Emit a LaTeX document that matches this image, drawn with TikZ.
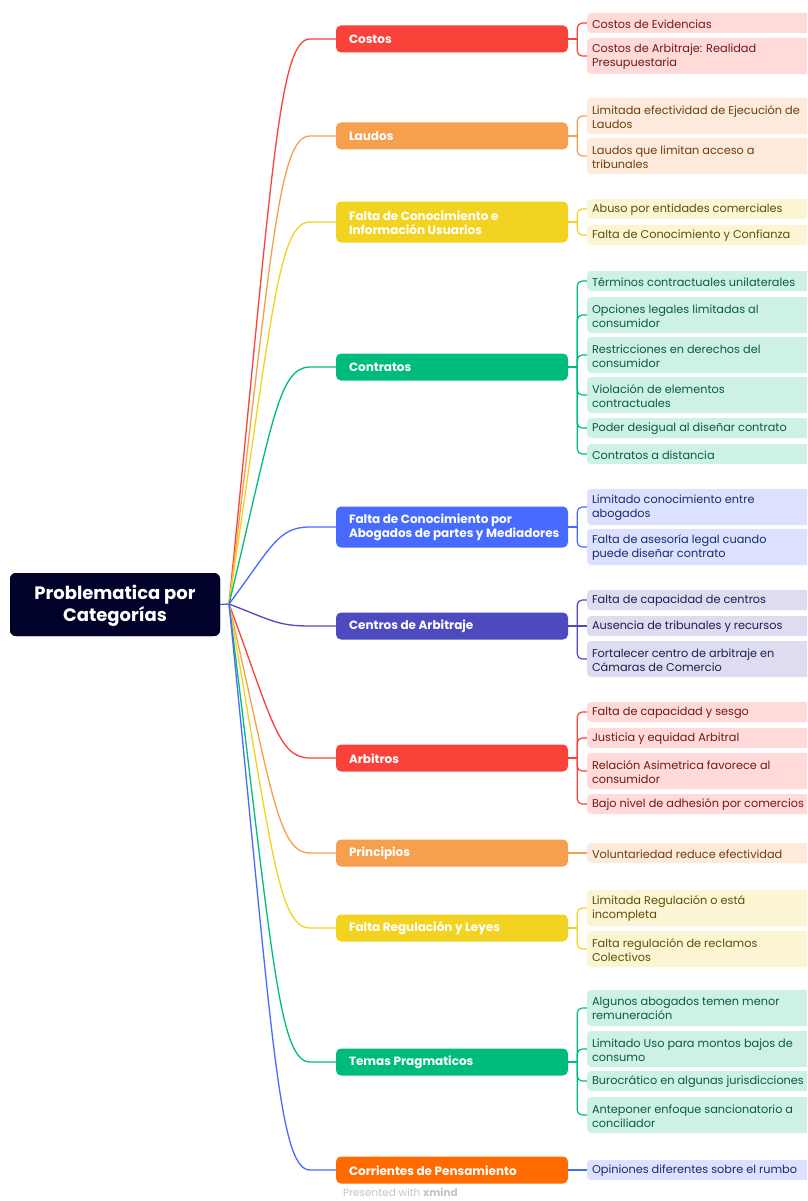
\documentclass[tikz,border=0pt]{standalone}
\usepackage{fontspec}
\setmainfont{Poppins}
\definecolor{cRed}{HTML}{F9423A}
\definecolor{cOrange}{HTML}{F6A04D}
\definecolor{cYellow}{HTML}{F3D321}
\definecolor{cGreen}{HTML}{00BC7B}
\definecolor{cBlue}{HTML}{486AFF}
\definecolor{cIndigo}{HTML}{4D49BE}
\definecolor{cDeep}{HTML}{FF6B00}
\definecolor{cRoot}{HTML}{000229}
\definecolor{lRed}{HTML}{FFDAD8}
\definecolor{lOrange}{HTML}{FDEADB}
\definecolor{lYellow}{HTML}{FCF5D3}
\definecolor{lGreen}{HTML}{CDF2E5}
\definecolor{lBlue}{HTML}{DBE1FF}
\definecolor{lIndigo}{HTML}{DDDCF1}
\definecolor{tRed}{HTML}{6E1A17}
\definecolor{tOrange}{HTML}{6A4012}
\definecolor{tYellow}{HTML}{5C4F0B}
\definecolor{tGreen}{HTML}{0B5B3F}
\definecolor{tBlue}{HTML}{1D2B6B}
\definecolor{tIndigo}{HTML}{1F1E4E}
\definecolor{cFoot}{HTML}{C4C4C4}
\tikzset{
  rootbox/.style={draw=none, fill=cRoot, rounded corners=6pt, minimum width=210pt, minimum height=63pt, inner sep=0pt},
  roottext/.style={text=white, align=center, font=\fontsize{18}{22}\selectfont\bfseries, inner sep=0pt},
  brbox/.style={draw=none, rounded corners=5pt, minimum width=232pt, inner sep=0pt},
  brtext/.style={anchor=west, text=white, align=left, font=\fontsize{12}{14}\selectfont\bfseries, inner sep=0pt},
  lfbox/.style={draw=none, rounded corners=4pt, minimum width=226pt, inner sep=0pt},
  lftext/.style={anchor=west, align=left, font=\fontsize{11.3}{14}\selectfont, inner sep=0pt},
  bline/.style={line width=1.3pt},
  lline/.style={line width=1.2pt, rounded corners=5pt},
}
\newcommand{\branchnode}[5]{%
  \node[brbox, fill=#4, minimum height=#3] (#1) at (452,#2) {};
  \node[brtext] (#1t) at ([xshift=13pt,yshift=-0.5pt]#1.west) {#5};
}
\newcommand{\leafnode}[5]{%
  \node[lfbox, fill=l#4, minimum height=#3] (#1) at (700,#2) {};
  \node[lftext, text=t#4] (#1t) at ([xshift=5pt,yshift=-0.8pt]#1.west) {#5};
}
\begin{document}
\begin{tikzpicture}[x=1pt,y=-1pt]
\useasboundingbox (0,0) rectangle (807,1201);
\fill[white] (0,0) rectangle (807,1201);
\clip (0,0) rectangle (807,1201);

% root
\node[rootbox] (root) at (115,604.5) {};
\coordinate (F) at (229,604);

% branches
\branchnode{b1}{39}{27}{cRed}{Costos}
\branchnode{b2}{136}{27}{cOrange}{Laudos}
\branchnode{b3}{222}{41}{cYellow}{Falta de Conocimiento e\\Información Usuarios}
\branchnode{b4}{367}{27}{cGreen}{Contratos}
\branchnode{b5}{527}{41}{cBlue}{Falta de Conocimiento por\\Abogados de partes y Mediadores}
\branchnode{b6}{626}{27}{cIndigo}{Centros de Arbitraje}
\branchnode{b7}{758}{27}{cRed}{Arbitros}
\branchnode{b8}{853}{27}{cOrange}{Principios}
\branchnode{b9}{928}{27}{cYellow}{Falta Regulación y Leyes}
\branchnode{b10}{1062}{27}{cGreen}{Temas Pragmaticos}
\branchnode{b11}{1170}{27}{cDeep}{Corrientes de Pensamiento}

% leaves
\leafnode{l1a}{23}{20}{Red}{Costos de Evidencias}
\leafnode{l1b}{56}{36}{Red}{Costos de Arbitraje: Realidad\\Presupuestaria}
\leafnode{l2a}{116}{36}{Orange}{Limitada efectividad de Ejecución de\\Laudos}
\leafnode{l2b}{156}{36}{Orange}{Laudos que limitan acceso a\\tribunales}
\leafnode{l3a}{209}{20}{Yellow}{Abuso por entidades comerciales}
\leafnode{l3b}{235}{20}{Yellow}{Falta de Conocimiento y Confianza}
\leafnode{l4a}{281}{20}{Green}{Términos contractuales unilaterales}
\leafnode{l4b}{315}{36}{Green}{Opciones legales limitadas al\\consumidor}
\leafnode{l4c}{355}{36}{Green}{Restricciones en derechos del\\consumidor}
\leafnode{l4d}{395}{36}{Green}{Violación de elementos\\contractuales}
\leafnode{l4e}{428}{20}{Green}{Poder desigual al diseñar contrato}
\leafnode{l4f}{454}{20}{Green}{Contratos a distancia}
\leafnode{l5a}{507}{36}{Blue}{Limitado conocimiento entre\\abogados}
\leafnode{l5b}{547}{36}{Blue}{Falta de asesoría legal cuando\\puede diseñar contrato}
\leafnode{l6a}{600}{20}{Indigo}{Falta de capacidad de centros}
\leafnode{l6b}{626}{20}{Indigo}{Ausencia de tribunales y recursos}
\leafnode{l6c}{659}{36}{Indigo}{Fortalecer centro de arbitraje en\\Cámaras de Comercio}
\leafnode{l7a}{712}{20}{Red}{Falta de capacidad y sesgo}
\leafnode{l7b}{738}{20}{Red}{Justicia y equidad Arbitral}
\leafnode{l7c}{771}{36}{Red}{Relación Asimetrica favorece al\\consumidor}
\leafnode{l7d}{804}{20}{Red}{Bajo nivel de adhesión por comercios}
\leafnode{l8a}{853}{20}{Orange}{Voluntariedad reduce efectividad}
\leafnode{l9a}{908}{36}{Yellow}{Limitada Regulación o está\\incompleta}
\leafnode{l9b}{949}{36}{Yellow}{Falta regulación de reclamos\\Colectivos}
\leafnode{l10a}{1008}{36}{Green}{Algunos abogados temen menor\\remuneración}
\leafnode{l10b}{1049}{36}{Green}{Limitado Uso para montos bajos de\\consumo}
\leafnode{l10c}{1081}{20}{Green}{Burocrático en algunas jurisdicciones}
\leafnode{l10d}{1115}{36}{Green}{Anteponer enfoque sancionatorio a\\conciliador}
\leafnode{l11a}{1170}{20}{Blue}{Opiniones diferentes sobre el rumbo}

% root stub and branch curves
\draw[bline, color=cBlue!70!cIndigo] (root.east) -- (F);
\draw[bline, cRed]    (F) .. controls (272,180.25) and (278,39) .. (310,39) -- (b1.west);
\draw[bline, cOrange] (F) .. controls (272,253) and (278,136) .. (310,136) -- (b2.west);
\draw[bline, cYellow] (F) .. controls (272,317.5) and (278,222) .. (310,222) -- (b3.west);
\draw[bline, cGreen]  (F) .. controls (272,426.25) and (278,367) .. (310,367) -- (b4.west);
\draw[bline, cBlue]   (F) .. controls (272,546.25) and (278,527) .. (310,527) -- (b5.west);
\draw[bline, cIndigo] (F) .. controls (272,620.5) and (278,626) .. (310,626) -- (b6.west);
\draw[bline, cRed]    (F) .. controls (272,719.5) and (278,758) .. (310,758) -- (b7.west);
\draw[bline, cOrange] (F) .. controls (272,790.75) and (278,853) .. (310,853) -- (b8.west);
\draw[bline, cYellow] (F) .. controls (272,847) and (278,928) .. (310,928) -- (b9.west);
\draw[bline, cGreen]  (F) .. controls (272,947.5) and (278,1062) .. (310,1062) -- (b10.west);
\draw[bline, cBlue]   (F) .. controls (272,1028.5) and (278,1170) .. (310,1170) -- (b11.west);

% leaf connectors
\draw[lline, cRed] (b1.east) -- ++(9,0);
\draw[lline, cRed] (b1.east) ++(9,0) |- (l1a.west);
\draw[lline, cRed] (b1.east) ++(9,0) |- (l1b.west);
\draw[lline, cOrange] (b2.east) -- ++(9,0);
\draw[lline, cOrange] (b2.east) ++(9,0) |- (l2a.west);
\draw[lline, cOrange] (b2.east) ++(9,0) |- (l2b.west);
\draw[lline, cYellow] (b3.east) -- ++(9,0);
\draw[lline, cYellow] (b3.east) ++(9,0) |- (l3a.west);
\draw[lline, cYellow] (b3.east) ++(9,0) |- (l3b.west);
\draw[lline, cGreen] (b4.east) -- ++(9,0);
\draw[lline, cGreen] (b4.east) ++(9,0) |- (l4a.west);
\draw[lline, cGreen] (b4.east) ++(9,0) |- (l4b.west);
\draw[lline, cGreen] (b4.east) ++(9,0) |- (l4c.west);
\draw[lline, cGreen] (b4.east) ++(9,0) |- (l4d.west);
\draw[lline, cGreen] (b4.east) ++(9,0) |- (l4e.west);
\draw[lline, cGreen] (b4.east) ++(9,0) |- (l4f.west);
\draw[lline, cBlue] (b5.east) -- ++(9,0);
\draw[lline, cBlue] (b5.east) ++(9,0) |- (l5a.west);
\draw[lline, cBlue] (b5.east) ++(9,0) |- (l5b.west);
\draw[lline, cIndigo] (b6.east) -- (l6b.west);
\draw[lline, cIndigo] (b6.east) ++(9,0) |- (l6a.west);
\draw[lline, cIndigo] (b6.east) ++(9,0) |- (l6c.west);
\draw[lline, cRed] (b7.east) -- ++(9,0);
\draw[lline, cRed] (b7.east) ++(9,0) |- (l7a.west);
\draw[lline, cRed] (b7.east) ++(9,0) |- (l7b.west);
\draw[lline, cRed] (b7.east) ++(9,0) |- (l7c.west);
\draw[lline, cRed] (b7.east) ++(9,0) |- (l7d.west);
\draw[lline, cOrange] (b8.east) -- (l8a.west);
\draw[lline, cYellow] (b9.east) -- ++(9,0);
\draw[lline, cYellow] (b9.east) ++(9,0) |- (l9a.west);
\draw[lline, cYellow] (b9.east) ++(9,0) |- (l9b.west);
\draw[lline, cGreen] (b10.east) -- ++(9,0);
\draw[lline, cGreen] (b10.east) ++(9,0) |- (l10a.west);
\draw[lline, cGreen] (b10.east) ++(9,0) |- (l10b.west);
\draw[lline, cGreen] (b10.east) ++(9,0) |- (l10c.west);
\draw[lline, cGreen] (b10.east) ++(9,0) |- (l10d.west);
\draw[lline, cBlue] (b11.east) -- (l11a.west);

% root box on top of the stub
\node[rootbox] (rootfg) at (root.center) {};
\node[roottext] (roott) at ([yshift=-1pt]root.center) {Problematica por\\Categorías};

% footer
\node[anchor=base west, inner sep=0pt, text=cFoot, font=\fontsize{10.5}{12}\selectfont] (foot) at (343,1196.5) {Presented with \textbf{xmind}};
\end{tikzpicture}
\end{document}
